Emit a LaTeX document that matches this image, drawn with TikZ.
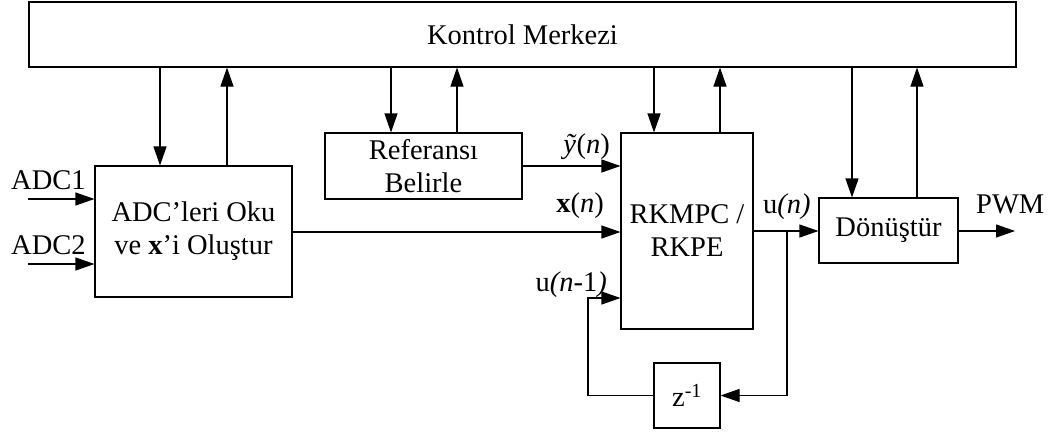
\documentclass[tikz,border=0pt]{standalone}
\usepackage{fontspec}
\setmainfont{Liberation Serif}
\usetikzlibrary{arrows.meta}
\begin{document}
\begin{tikzpicture}[x=1pt,y=-1pt,
  box/.style={draw, line width=1.1pt, inner sep=0pt, align=center},
  arr/.style={line width=1.1pt, -{Triangle[length=19pt,width=13pt]}},
  lbl/.style={inner sep=0pt},
  font=\fontsize{28.5}{33}\selectfont]
\useasboundingbox (0,0) rectangle (1056,434);
% boxes
\node[box, minimum width=987pt, minimum height=65pt] (km) at (522.5,34.5) {Kontrol Merkezi};
\node[box, minimum width=197pt, minimum height=131pt] (adc) at (193.5,231.5) {ADC’leri Oku\\ve \textbf{x}’i Oluştur};
\node[box, minimum width=197pt, minimum height=66pt] (ref) at (423.5,166) {Referansı\\Belirle};
\node[box, minimum width=132pt, minimum height=196pt] (rk) at (687,231) {RKMPC /\\RKPE};
\node[box, minimum width=139pt, minimum height=65pt] (dn) at (888.5,230.5) {Dönüştür};
\node[box, minimum width=66pt, minimum height=65pt] (z) at (687,395.5) {z\textsuperscript{-1}};
% control links
\draw[arr] (160,0 |- km.south) -- (160,0 |- adc.north);
\draw[arr] (227,0 |- adc.north) -- (227,0 |- km.south);
\draw[arr] (391,0 |- km.south) -- (391,0 |- ref.north);
\draw[arr] (457,0 |- ref.north) -- (457,0 |- km.south);
\draw[arr] (654,0 |- km.south) -- (654,0 |- rk.north);
\draw[arr] (720,0 |- rk.north) -- (720,0 |- km.south);
\draw[arr] (852,0 |- km.south) -- (852,0 |- dn.north);
\draw[arr] (917,0 |- dn.north) -- (917,0 |- km.south);
% inputs
\coordinate (in1) at (28,199);
\coordinate (in2) at (28,264);
\draw[arr] (in1) -- (adc.west |- in1);
\draw[arr] (in2) -- (adc.west |- in2);
\node[lbl, anchor=base west] (l1) at (11,189) {ADC1};
\node[lbl, anchor=base west] (l2) at (11,254) {ADC2};
% signals
\draw[arr] (ref.east) -- (rk.west |- ref.east);
\draw[arr] (adc.east |- 0,232) -- (rk.west |- 0,232);
\coordinate (j) at (787,231);
\draw[arr] (rk.east |- j) -- (dn.west |- j);
\draw[arr] (j) -- (j |- z.east) -- (z.east);
\draw[arr] (z.west) -- (588,0 |- z.west) -- (588,298) -- (rk.west |- 0,298);
\coordinate (out) at (1015,231);
\draw[arr] (dn.east |- out) -- (out);
% labels
\node[lbl, anchor=base east] (ly) at (610,153) {\textit{ỹ}(\textit{n})};
\node[lbl, anchor=base east] (lx) at (604,212) {\textbf{x}(\textit{n})};
\node[lbl, anchor=base east] (lu1) at (607,291) {u\textit{(n}-1\textit{)}};
\node[lbl, anchor=base west] (lu) at (763,213) {u\textit{(n)}};
\node[lbl, anchor=base west] (lp) at (976,213) {PWM};
\end{tikzpicture}
\end{document}
